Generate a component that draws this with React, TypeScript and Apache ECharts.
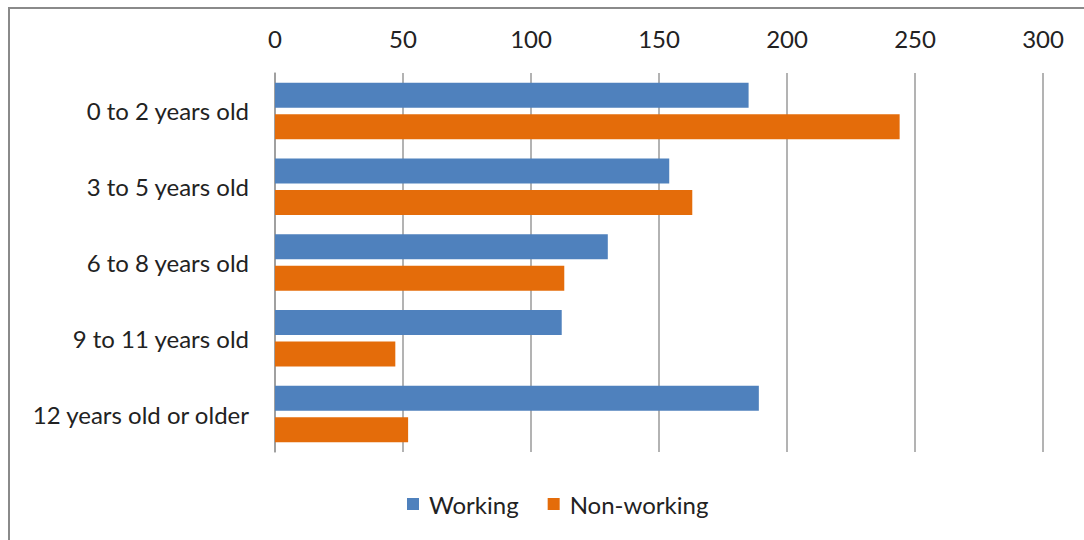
import React, { useEffect, useRef } from "react";
import * as echarts from "echarts";

const categories = [
  "0 to 2 years old",
  "3 to 5 years old",
  "6 to 8 years old",
  "9 to 11 years old",
  "12 years old or older",
];
const working = [185, 154, 130, 112, 189];
const nonWorking = [244, 163, 113, 47, 52];
const seriesNames = ["Working", "Non-working"];
const colors = ["#4F81BD", "#E46C0A"];

const FONT = "Lato";

export default function App() {
  const ref = useRef<HTMLDivElement>(null);
  useEffect(() => {
    document.body.style.margin = "0";
    if (!ref.current) return;
    const chart = echarts.init(ref.current, null, { renderer: "svg" });
    const grid = "#9a9a9a";
    chart.setOption({
      animation: false,
      backgroundColor: "#ffffff",
      textStyle: { fontFamily: FONT },
      grid: { left: 275, top: 73, right: 41, bottom: 88, containLabel: false },
      graphic: [
        {
          type: "rect",
          shape: { x: 9, y: 8, width: 1100, height: 600 },
          style: { fill: "none", stroke: "#8a8a8a", lineWidth: 2 },
          silent: true,
        },
      ],
      legend: {
        data: seriesNames,
        left: 402,
        top: 487,
        itemWidth: 12,
        itemHeight: 12,
        itemGap: 29,
        icon: "rect",
        textStyle: {
          fontFamily: FONT,
          fontSize: 24,
          color: "#222",
          padding: [0, 0, 0, 5],
        },
      },
      xAxis: {
        type: "value",
        position: "top",
        min: 0,
        max: 300,
        interval: 50,
        axisLine: { show: false },
        axisTick: { show: false },
        axisLabel: { fontFamily: FONT, fontSize: 24, color: "#222", margin: 23 },
        splitLine: { show: true, lineStyle: { color: grid, width: 1.5 } },
      },
      yAxis: {
        type: "category",
        data: categories,
        inverse: true,
        axisLine: { show: true, lineStyle: { color: grid, width: 1.5 } },
        axisTick: { show: false },
        axisLabel: { fontFamily: FONT, fontSize: 24, color: "#222", margin: 26 },
      },
      series: [
        {
          name: seriesNames[0],
          type: "bar",
          data: working,
          barWidth: 25,
          barGap: "26%",
          itemStyle: { color: colors[0] },
        },
        {
          name: seriesNames[1],
          type: "bar",
          data: nonWorking,
          barWidth: 25,
          barGap: "26%",
          itemStyle: { color: colors[1] },
        },
      ],
    });
    return () => chart.dispose();
  }, []);
  return <div ref={ref} style={{ width: 1084, height: 540 }} />;
}
